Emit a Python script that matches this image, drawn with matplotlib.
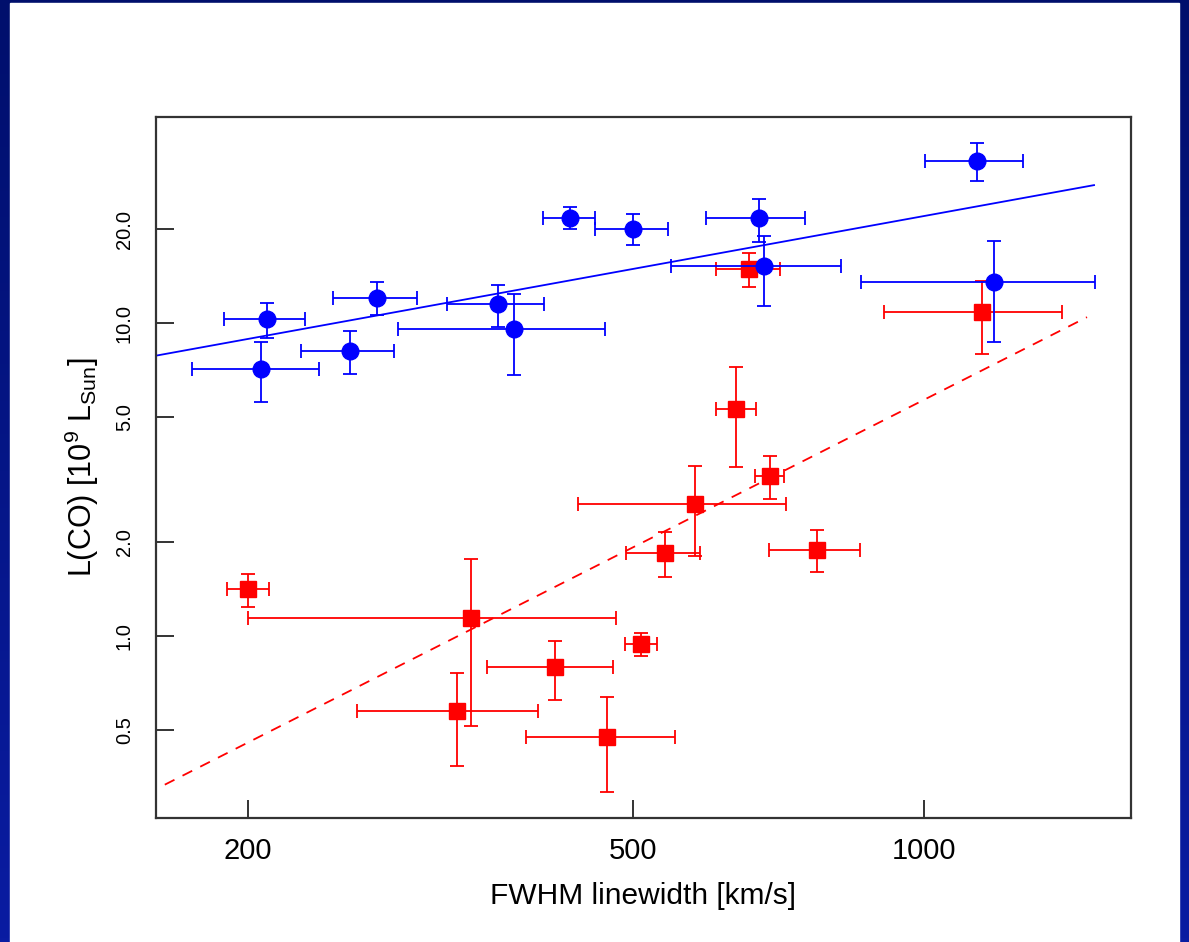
#L(CO) vs FWHM linewidth, two samples with power-law fits
#log-log axes, R style box with inward ticks

import numpy as np
import matplotlib
matplotlib.use("Agg")
import matplotlib.pyplot as plt
from matplotlib.colors import LinearSegmentedColormap
from matplotlib.patches import Rectangle

plt.rcParams['font.family'] = ['Liberation Sans', 'DejaVu Sans']
plt.rcParams['mathtext.default'] = 'regular'

# blue sample (circles)
blue_x = [209, 206, 272, 255, 363, 377, 431, 500, 675, 684, 1136, 1182]
blue_x_lo = [189, 175, 245, 227, 321, 286, 404, 457, 595, 547, 1003, 861]
blue_x_hi = [229, 237, 299, 283, 405, 468, 457, 544, 754, 821, 1267, 1502]
blue_y = [10.3, 7.13, 12.07, 8.17, 11.53, 9.59, 21.67, 20.02, 21.67, 15.25, 33.0, 13.5]
blue_y_lo = [8.97, 5.60, 10.63, 6.88, 9.75, 6.82, 20.02, 17.80, 18.24, 11.38, 28.4, 8.73]
blue_y_hi = [11.61, 8.71, 13.59, 9.45, 13.29, 12.44, 23.54, 22.41, 25.03, 19.02, 37.6, 18.33]

# red sample (squares)
red_x = [200, 340, 415, 329, 470, 510, 540, 580, 639, 660, 693, 775, 1149]
red_x_lo = [190, 200, 353, 259, 388, 491, 492, 439, 610, 610, 669, 692, 910]
red_x_hi = [210, 480, 477, 399, 553, 530, 587, 720, 671, 710, 716, 858, 1390]
red_y = [1.41, 1.144, 0.796, 0.576, 0.476, 0.943, 1.838, 2.643, 5.32, 14.92, 3.25, 1.884, 10.84]
red_y_lo = [1.241, 0.518, 0.626, 0.385, 0.318, 0.865, 1.541, 1.803, 3.47, 13.04, 2.736, 1.598, 7.98]
red_y_hi = [1.578, 1.767, 0.966, 0.761, 0.638, 1.02, 2.156, 3.498, 7.25, 16.82, 3.764, 2.178, 13.65]

# fits: log10(L) = a + b*log10(FWHM)
blue_fit = (-0.3424, 0.5616)
blue_fit_range = [150, 1500]
red_fit = (-3.943, 1.566)
red_fit_range = [164, 1475]

x_ticks = [200, 500, 1000]
y_ticks = [0.5, 1.0, 2.0, 5.0, 10.0, 20.0]
y_tick_labels = ['0.5', '1.0', '2.0', '5.0', '10.0', '20.0']

W, H = 1189, 942
fig = plt.figure(figsize=(W / 100, H / 100), dpi=100)

# slide background: navy border with white page
bg = fig.add_axes([0, 0, 1, 1])
grad = np.linspace(0, 1, 256).reshape(-1, 1)
navy = LinearSegmentedColormap.from_list('navy', ['#000f6c', '#0a1ca2'])
bg.imshow(grad, aspect='auto', extent=[0, 1, 0, 1], cmap=navy, origin='upper')
bg.add_patch(Rectangle((10 / W, 0), (1179 - 10) / W, (H - 3) / H, color='white'))
bg.set_xlim(0, 1)
bg.set_ylim(0, 1)
bg.axis('off')

left, right, top, bottom = 156, 1131, 117, 818
ax = fig.add_axes([left / W, (H - bottom) / H, (right - left) / W, (bottom - top) / H])
ax.set_xscale('log')
ax.set_yscale('log')


def err(v, lo, hi):
    v, lo, hi = np.array(v), np.array(lo), np.array(hi)
    return [v - lo, hi - v]


ax.errorbar(red_x, red_y, xerr=err(red_x, red_x_lo, red_x_hi), yerr=err(red_y, red_y_lo, red_y_hi),
            fmt='s', color='#ff0000', ms=11, ecolor='#ff0000', elinewidth=1.3, capsize=4.7,
            capthick=1.3, zorder=3)
ax.errorbar(blue_x, blue_y, xerr=err(blue_x, blue_x_lo, blue_x_hi), yerr=err(blue_y, blue_y_lo, blue_y_hi),
            fmt='o', color='#0000ff', ms=12, ecolor='#0000ff', elinewidth=1.3, capsize=4.7,
            capthick=1.3, zorder=4)

bx = np.array(blue_fit_range, dtype=float)
ax.plot(bx, 10 ** (blue_fit[0] + blue_fit[1] * np.log10(bx)), color='#0000ff', lw=1.3, zorder=2)
rx = np.array(red_fit_range, dtype=float)
ax.plot(rx, 10 ** (red_fit[0] + red_fit[1] * np.log10(rx)), color='#ff0000', lw=1.3,
        dashes=(6, 5), zorder=2)

ax.set_xlim(160.6, 1638)
ax.set_ylim(0.2624, 45.6)

ax.xaxis.set_major_locator(matplotlib.ticker.FixedLocator(x_ticks))
ax.xaxis.set_major_formatter(matplotlib.ticker.FixedFormatter([str(t) for t in x_ticks]))
ax.xaxis.set_minor_locator(matplotlib.ticker.NullLocator())
ax.yaxis.set_major_locator(matplotlib.ticker.FixedLocator(y_ticks))
ax.yaxis.set_major_formatter(matplotlib.ticker.FixedFormatter(y_tick_labels))
ax.yaxis.set_minor_locator(matplotlib.ticker.NullLocator())

ax.tick_params(axis='both', direction='in', length=13, width=1.4, color='#333333')
ax.tick_params(axis='x', labelsize=21, pad=14)
ax.tick_params(axis='y', labelsize=14.5, pad=16)
for lab in ax.get_yticklabels():
    lab.set_rotation(90)
    lab.set_va('center')
for s in ax.spines.values():
    s.set_linewidth(1.6)
    s.set_color('#333333')

ax.set_xlabel('FWHM linewidth [km/s]', fontsize=21.5, labelpad=12)
ax.set_ylabel(r'L(CO) [10$^{9}$ L$_{Sun}$]', fontsize=22, labelpad=10)

fig.savefig('out.png', dpi=100)
